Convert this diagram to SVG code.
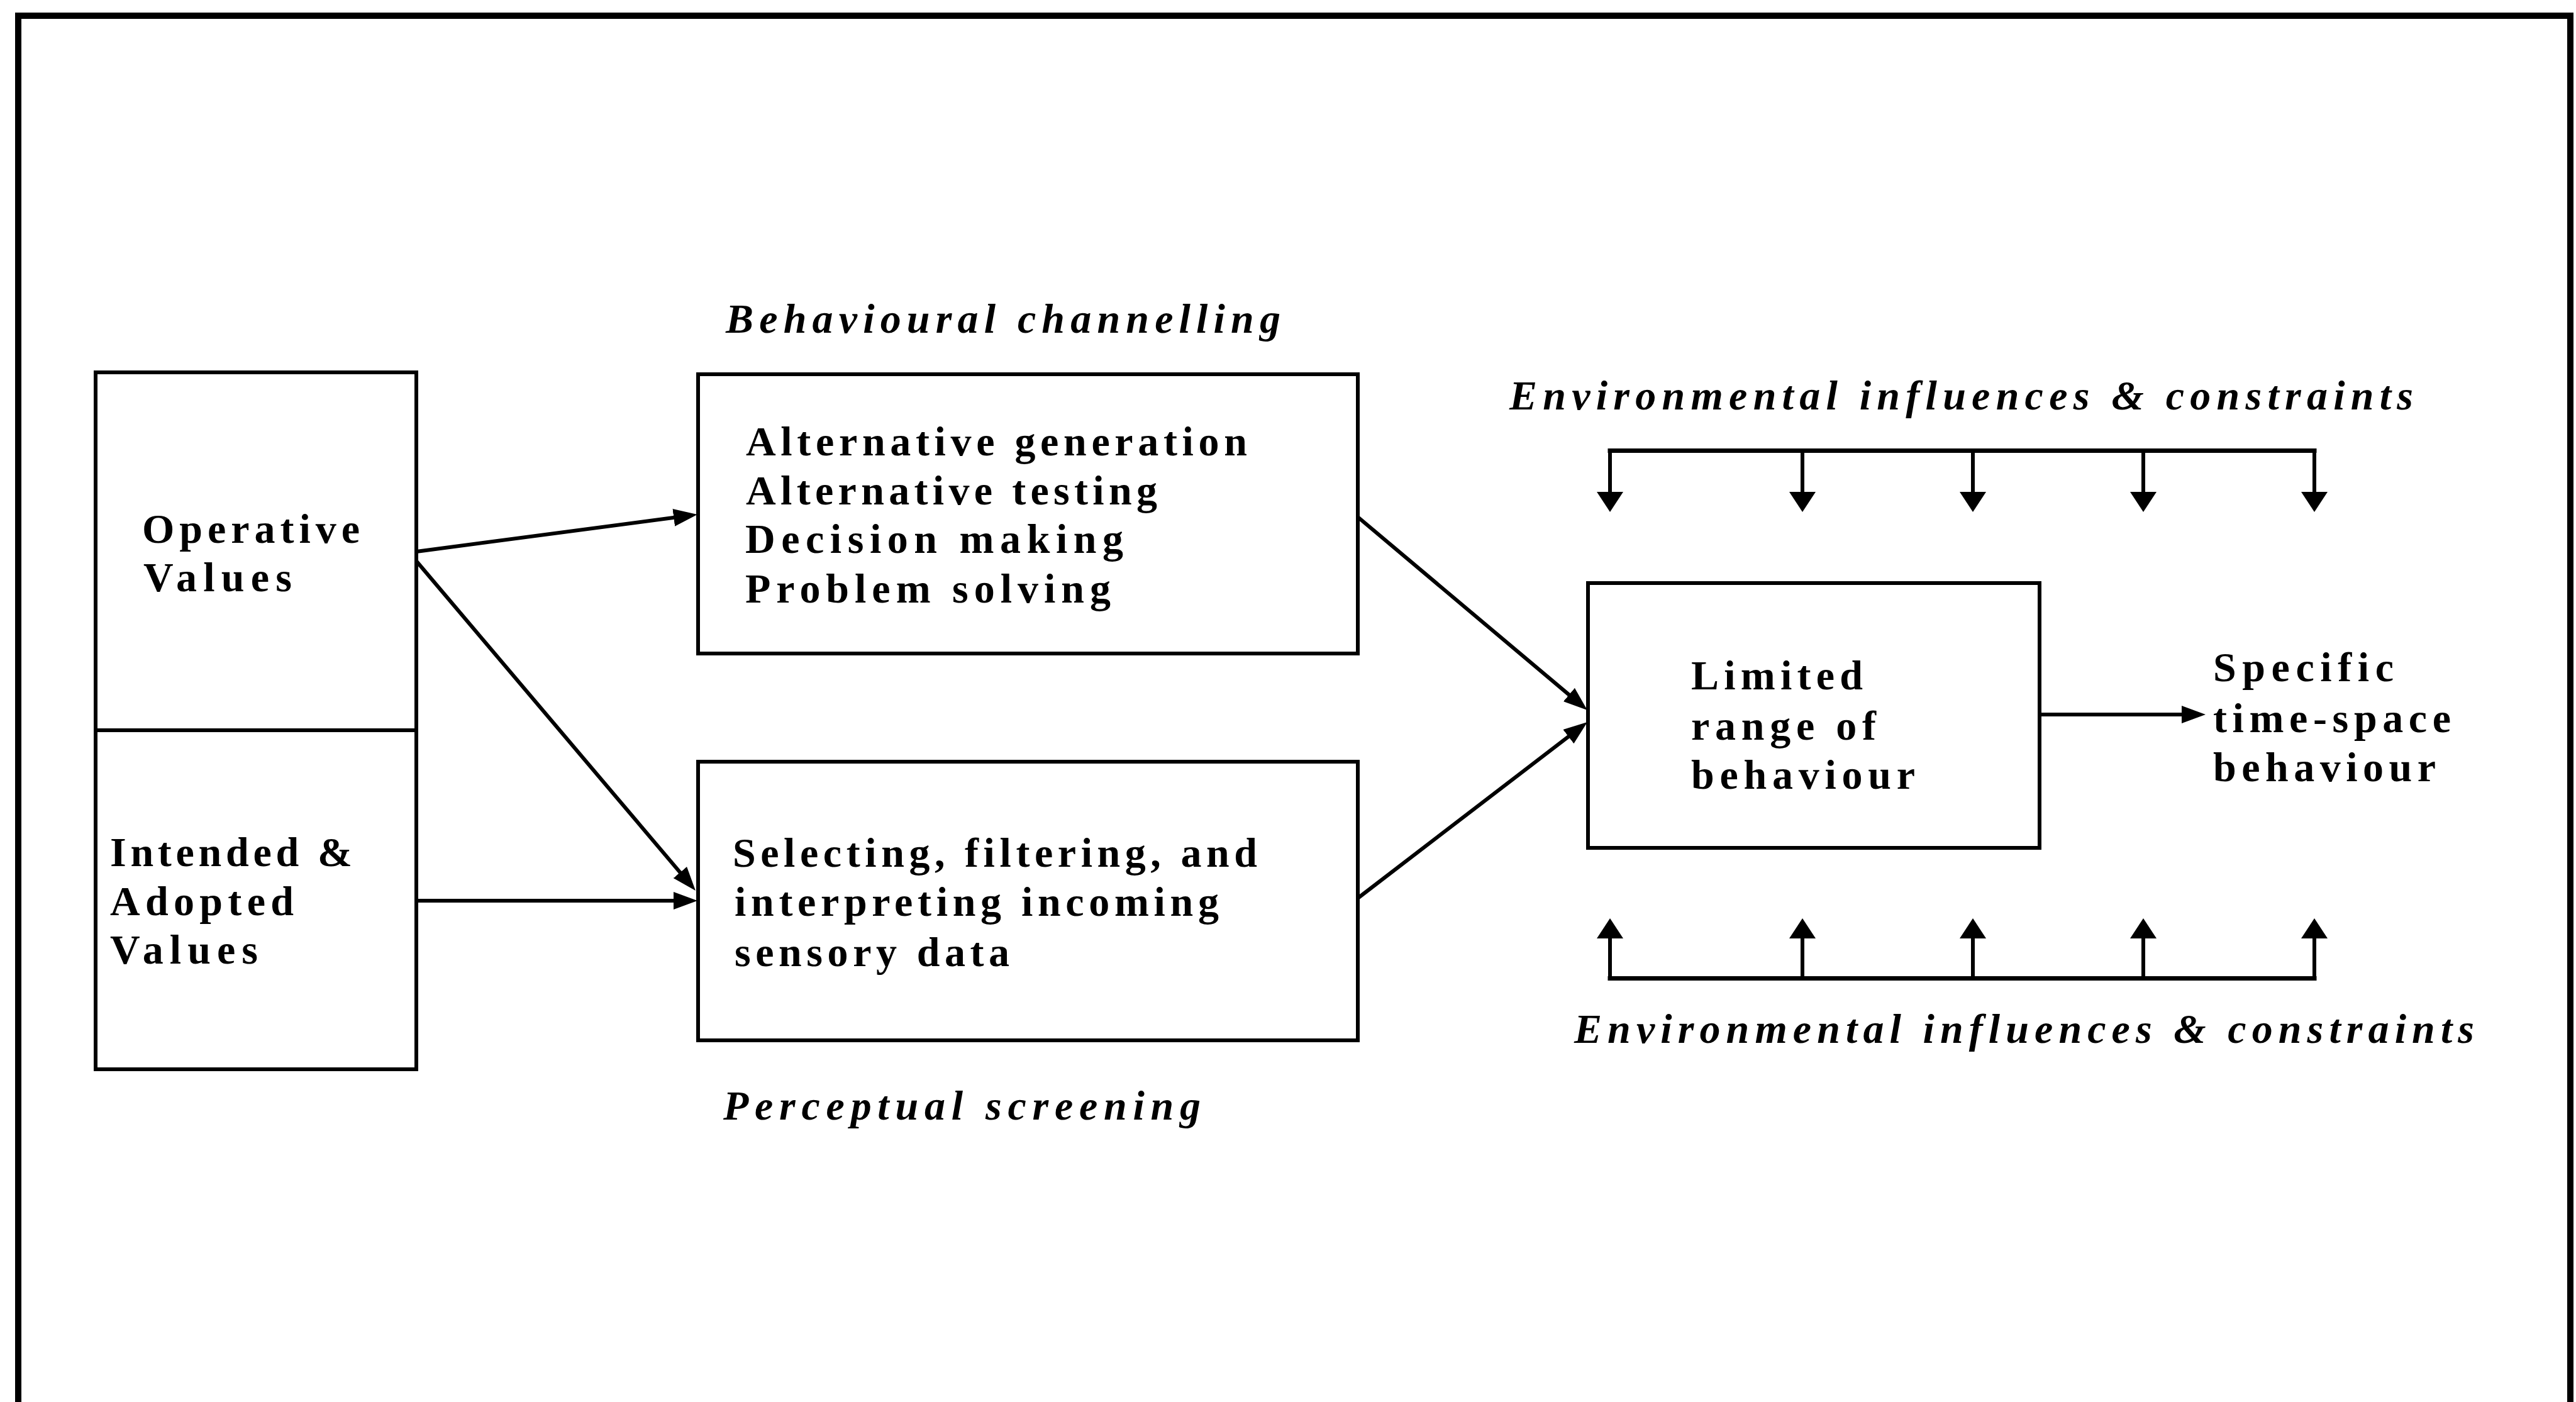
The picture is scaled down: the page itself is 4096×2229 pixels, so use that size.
<svg xmlns="http://www.w3.org/2000/svg" width="4096" height="2229" viewBox="0 0 4096 2229">
<style>
.box{fill:none;stroke:#000;stroke-width:6}
.frame{fill:none;stroke:#000;stroke-width:10}
.t{font-family:"Liberation Serif","Times New Roman",serif;font-weight:bold;font-size:66px;fill:#000}
.i{font-family:"Liberation Serif","Times New Roman",serif;font-weight:bold;font-style:italic;font-size:66px;fill:#000}
.c{fill:none;stroke:#000;stroke-width:6}
.b{fill:none;stroke:#000;stroke-width:7;stroke-linecap:square}
</style>
<defs>
<marker id="ah" markerUnits="userSpaceOnUse" viewBox="0 0 40 28" markerWidth="40" markerHeight="28" refX="28" refY="14" orient="auto">
<path d="M0,0 L38,14 L0,28 Z" fill="#000"/>
</marker>
<marker id="bh" markerUnits="userSpaceOnUse" viewBox="0 0 34 42" markerWidth="34" markerHeight="42" refX="22" refY="21" orient="auto">
<path d="M0,0 L32,21 L0,42 Z" fill="#000"/>
</marker>
</defs>
<rect width="4096" height="2229" fill="#fff"/>
<path class="frame" d="M29,2229 V25 H4087 V2229"/>

<g id="values">
<rect class="box" x="152" y="592" width="510" height="1108"/>
<line class="box" x1="152" y1="1161" x2="662" y2="1161"/>
<text class="t" x="226" y="863" textLength="346" lengthAdjust="spacing">Operative</text>
<text class="t" x="228" y="940" textLength="236" lengthAdjust="spacing">Values</text>
<text class="t" x="175" y="1377" textLength="385" lengthAdjust="spacing">Intended &amp;</text>
<text class="t" x="175" y="1455" textLength="292" lengthAdjust="spacing">Adopted</text>
<text class="t" x="175" y="1532" textLength="235" lengthAdjust="spacing">Values</text>
</g>

<g id="behavioural-channelling">
<text class="i" x="1154" y="529" textLength="882" lengthAdjust="spacing">Behavioural channelling</text>
<rect class="box" x="1110" y="595" width="1049" height="444"/>
<text class="t" x="1186" y="724" textLength="797" lengthAdjust="spacing">Alternative generation</text>
<text class="t" x="1186" y="802" textLength="654" lengthAdjust="spacing">Alternative testing</text>
<text class="t" x="1185" y="879" textLength="601" lengthAdjust="spacing">Decision making</text>
<text class="t" x="1185" y="958" textLength="581" lengthAdjust="spacing">Problem solving</text>
</g>

<g id="perceptual-screening">
<rect class="box" x="1110" y="1211" width="1049" height="443"/>
<text class="t" x="1165" y="1378" textLength="834" lengthAdjust="spacing">Selecting, filtering, and</text>
<text class="t" x="1168" y="1456" textLength="770" lengthAdjust="spacing">interpreting incoming</text>
<text class="t" x="1168" y="1536" textLength="437" lengthAdjust="spacing">sensory data</text>
<text class="i" x="1150" y="1780" textLength="759" lengthAdjust="spacing">Perceptual screening</text>
</g>

<g id="limited-range">
<rect class="box" x="2525" y="927" width="718" height="421"/>
<text class="t" x="2689" y="1096" textLength="273" lengthAdjust="spacing">Limited</text>
<text class="t" x="2689" y="1176" textLength="294" lengthAdjust="spacing">range of</text>
<text class="t" x="2689" y="1254" textLength="356" lengthAdjust="spacing">behaviour</text>
</g>

<g id="specific-behaviour">
<text class="t" x="3519" y="1083" textLength="287" lengthAdjust="spacing">Specific</text>
<text class="t" x="3519" y="1164" textLength="378" lengthAdjust="spacing">time-space</text>
<text class="t" x="3519" y="1242" textLength="354" lengthAdjust="spacing">behaviour</text>
</g>

<g id="env-top">
<text class="i" x="2400" y="651" textLength="1437" lengthAdjust="spacing">Environmental influences &amp; constraints</text>
<line class="b" x1="2560" y1="716.5" x2="3680" y2="716.5"/>
<line class="c" x1="2560" y1="716.5" x2="2560" y2="804" marker-end="url(#bh)"/>
<line class="c" x1="2866" y1="716.5" x2="2866" y2="804" marker-end="url(#bh)"/>
<line class="c" x1="3137" y1="716.5" x2="3137" y2="804" marker-end="url(#bh)"/>
<line class="c" x1="3408" y1="716.5" x2="3408" y2="804" marker-end="url(#bh)"/>
<line class="c" x1="3680" y1="716.5" x2="3680" y2="804" marker-end="url(#bh)"/>
</g>

<g id="env-bottom">
<line class="b" x1="2560" y1="1555.5" x2="3680" y2="1555.5"/>
<line class="c" x1="2560" y1="1555.5" x2="2560" y2="1470" marker-end="url(#bh)"/>
<line class="c" x1="2866" y1="1555.5" x2="2866" y2="1470" marker-end="url(#bh)"/>
<line class="c" x1="3137" y1="1555.5" x2="3137" y2="1470" marker-end="url(#bh)"/>
<line class="c" x1="3408" y1="1555.5" x2="3408" y2="1470" marker-end="url(#bh)"/>
<line class="c" x1="3680" y1="1555.5" x2="3680" y2="1470" marker-end="url(#bh)"/>
<text class="i" x="2503" y="1658" textLength="1431" lengthAdjust="spacing">Environmental influences &amp; constraints</text>
</g>

<g id="connectors">
<line class="c" x1="662" y1="877" x2="1099" y2="819.3" marker-end="url(#ah)"/>
<line class="c" x1="662" y1="892" x2="1099.5" y2="1408.4" marker-end="url(#ah)"/>
<line class="c" x1="662" y1="1432" x2="1099" y2="1432" marker-end="url(#ah)"/>
<line class="c" x1="2159" y1="822" x2="2516.3" y2="1122.6" marker-end="url(#ah)"/>
<line class="c" x1="2159" y1="1428" x2="2516.1" y2="1154.1" marker-end="url(#ah)"/>
<line class="c" x1="3243" y1="1136" x2="3497" y2="1136" marker-end="url(#ah)"/>
</g>
</svg>
